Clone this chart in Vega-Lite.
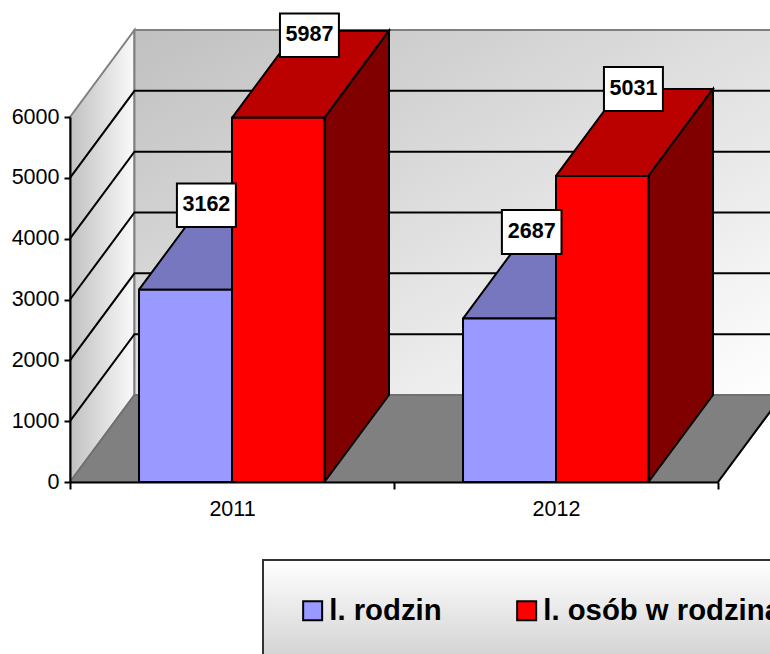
{
"$schema":"https://vega.github.io/schema/vega-lite/v6.json",
"width":648,"height":365,
"autosize":{"type":"none"},
"padding":{"left":70,"top":117,"right":52,"bottom":172},
"background":"white",
"config":{"view":{"stroke":null},"font":"Liberation Sans"},
"datasets":{
"faces":[
{"face":"left wall","i":0,"x":0,"y":0},{"face":"left wall","i":1,"x":0.199,"y":1430},{"face":"left wall","i":2,"x":0.199,"y":7430},{"face":"left wall","i":3,"x":0,"y":6000},{"face":"left wall","i":4,"x":0,"y":0},
{"face":"back wall","i":0,"x":0.199,"y":1430},{"face":"back wall","i":1,"x":2.199,"y":1430},{"face":"back wall","i":2,"x":2.199,"y":7430},{"face":"back wall","i":3,"x":0.199,"y":7430},{"face":"back wall","i":4,"x":0.199,"y":1430},
{"face":"floor","i":0,"x":0,"y":0},{"face":"floor","i":1,"x":2,"y":0},{"face":"floor","i":2,"x":2.199,"y":1430},{"face":"floor","i":3,"x":0.199,"y":1430},{"face":"floor","i":4,"x":0,"y":0},
{"face":"floor edge","i":0,"x":2,"y":0},{"face":"floor edge","i":1,"x":2.199,"y":1430},
{"face":"blue top 2011","i":0,"x":0.213,"y":3162},{"face":"blue top 2011","i":1,"x":0.5,"y":3162},{"face":"blue top 2011","i":2,"x":0.699,"y":4592},{"face":"blue top 2011","i":3,"x":0.412,"y":4592},{"face":"blue top 2011","i":4,"x":0.213,"y":3162},
{"face":"blue top 2012","i":0,"x":1.213,"y":2687},{"face":"blue top 2012","i":1,"x":1.5,"y":2687},{"face":"blue top 2012","i":2,"x":1.699,"y":4117},{"face":"blue top 2012","i":3,"x":1.412,"y":4117},{"face":"blue top 2012","i":4,"x":1.213,"y":2687},
{"face":"red top 2011","i":0,"x":0.5,"y":5987},{"face":"red top 2011","i":1,"x":0.7855,"y":5987},{"face":"red top 2011","i":2,"x":0.9845,"y":7417},{"face":"red top 2011","i":3,"x":0.699,"y":7417},{"face":"red top 2011","i":4,"x":0.5,"y":5987},
{"face":"red top 2012","i":0,"x":1.5,"y":5031},{"face":"red top 2012","i":1,"x":1.7855,"y":5031},{"face":"red top 2012","i":2,"x":1.9845,"y":6461},{"face":"red top 2012","i":3,"x":1.699,"y":6461},{"face":"red top 2012","i":4,"x":1.5,"y":5031},
{"face":"red side 2011","i":0,"x":0.7855,"y":0},{"face":"red side 2011","i":1,"x":0.9845,"y":1430},{"face":"red side 2011","i":2,"x":0.9845,"y":7417},{"face":"red side 2011","i":3,"x":0.7855,"y":5987},{"face":"red side 2011","i":4,"x":0.7855,"y":0},
{"face":"red side 2012","i":0,"x":1.7855,"y":0},{"face":"red side 2012","i":1,"x":1.9845,"y":1430},{"face":"red side 2012","i":2,"x":1.9845,"y":6461},{"face":"red side 2012","i":3,"x":1.7855,"y":5031},{"face":"red side 2012","i":4,"x":1.7855,"y":0}
],
"grid":[
{"v":1000,"i":0,"x":0,"y":1000},{"v":1000,"i":1,"x":0.199,"y":2430},{"v":1000,"i":2,"x":2.199,"y":2430},
{"v":2000,"i":0,"x":0,"y":2000},{"v":2000,"i":1,"x":0.199,"y":3430},{"v":2000,"i":2,"x":2.199,"y":3430},
{"v":3000,"i":0,"x":0,"y":3000},{"v":3000,"i":1,"x":0.199,"y":4430},{"v":3000,"i":2,"x":2.199,"y":4430},
{"v":4000,"i":0,"x":0,"y":4000},{"v":4000,"i":1,"x":0.199,"y":5430},{"v":4000,"i":2,"x":2.199,"y":5430},
{"v":5000,"i":0,"x":0,"y":5000},{"v":5000,"i":1,"x":0.199,"y":6430},{"v":5000,"i":2,"x":2.199,"y":6430}
],
"bars":[
{"year":2011,"series":"l. rodzin","value":3162,"start":0.213,"end":0.5,"base":0},
{"year":2012,"series":"l. rodzin","value":2687,"start":1.213,"end":1.5,"base":0},
{"year":2011,"series":"l. osób w rodzinach","value":5987,"start":0.5,"end":0.7855,"base":0},
{"year":2012,"series":"l. osób w rodzinach","value":5031,"start":1.5,"end":1.7855,"base":0}
],
"labels":[
{"value":3162,"x1":0.330,"x2":0.512,"y1":4192,"y2":4907,"cx":0.421,"cy":4549},
{"value":5987,"x1":0.648,"x2":0.830,"y1":6986,"y2":7701,"cx":0.739,"cy":7344},
{"value":5031,"x1":1.648,"x2":1.830,"y1":6099,"y2":6822,"cx":1.739,"cy":6460},
{"value":2687,"x1":1.333,"x2":1.517,"y1":3748,"y2":4471,"cx":1.425,"cy":4110}
],
"legendbox":[{"x1":0.5957,"x2":2.4,"y1":-1282,"y2":-3000}]
},
"layer":[
{"data":{"name":"faces"},"transform":[{"filter":"datum.face=='left wall'"}],
 "mark":{"type":"line","strokeWidth":2,"stroke":"#808080","fill":{"gradient":"linear","x1":0,"y1":0,"x2":1,"y2":0,"stops":[{"offset":0,"color":"#c0c0c0"},{"offset":1,"color":"#fafafa"}]}},
 "encoding":{
  "x":{"field":"x","type":"quantitative","scale":{"domain":[0,2],"nice":false,"zero":false},
   "axis":{"title":null,"values":[0,0.5,1,1.5,2],"grid":false,"domainColor":"black","domainWidth":2,"tickColor":"black","tickWidth":2,"tickSize":7,"labelFontSize":21.5,"labelColor":"black","labelPadding":9,"labelFlush":false,"zindex":1,
    "labelExpr":"datum.value==0.5?'2011':datum.value==1.5?'2012':''",
    "tickOpacity":{"condition":{"test":"datum.value==0.5||datum.value==1.5","value":0},"value":1}}},
  "y":{"field":"y","type":"quantitative","scale":{"domain":[0,6000],"nice":false,"zero":false},
   "axis":{"title":null,"values":[0,1000,2000,3000,4000,5000,6000],"grid":false,"domainColor":"black","domainWidth":2,"tickColor":"black","tickWidth":2,"tickSize":6,"labelFontSize":21.5,"labelColor":"black","labelPadding":5,"format":"d","labelFlush":false,"zindex":1}},
  "order":{"field":"i","type":"quantitative"}}},
{"data":{"name":"faces"},"transform":[{"filter":"datum.face=='back wall'"}],
 "mark":{"type":"line","strokeWidth":2,"stroke":"#808080","fill":{"gradient":"linear","x1":0,"y1":0,"x2":1,"y2":1,"stops":[{"offset":0,"color":"#c0c0c0"},{"offset":1,"color":"#ffffff"}]}},
 "encoding":{"x":{"field":"x","type":"quantitative"},"y":{"field":"y","type":"quantitative"},"order":{"field":"i","type":"quantitative"}}},
{"data":{"name":"grid"},
 "mark":{"type":"line","strokeWidth":2,"stroke":"black"},
 "encoding":{"x":{"field":"x","type":"quantitative"},"y":{"field":"y","type":"quantitative"},"detail":{"field":"v","type":"nominal"},"order":{"field":"i","type":"quantitative"}}},
{"data":{"name":"faces"},"transform":[{"filter":"datum.face=='floor'"}],
 "mark":{"type":"line","strokeWidth":2,"stroke":"#707070","fill":"#808080"},
 "encoding":{"x":{"field":"x","type":"quantitative"},"y":{"field":"y","type":"quantitative"},"order":{"field":"i","type":"quantitative"}}},
{"data":{"name":"faces"},"transform":[{"filter":"datum.face=='floor edge'"}],
 "mark":{"type":"line","strokeWidth":2,"stroke":"black"},
 "encoding":{"x":{"field":"x","type":"quantitative"},"y":{"field":"y","type":"quantitative"},"order":{"field":"i","type":"quantitative"}}},
{"data":{"name":"faces"},"transform":[{"filter":"indexof(datum.face,'blue top')==0"}],
 "mark":{"type":"line","strokeWidth":2,"stroke":"black","fill":"#7777c0"},
 "encoding":{"x":{"field":"x","type":"quantitative"},"y":{"field":"y","type":"quantitative"},"detail":{"field":"face","type":"nominal"},"order":{"field":"i","type":"quantitative"}}},
{"data":{"name":"faces"},"transform":[{"filter":"indexof(datum.face,'red top')==0"}],
 "mark":{"type":"line","strokeWidth":2,"stroke":"black","fill":"#bb0000"},
 "encoding":{"x":{"field":"x","type":"quantitative"},"y":{"field":"y","type":"quantitative"},"detail":{"field":"face","type":"nominal"},"order":{"field":"i","type":"quantitative"}}},
{"data":{"name":"faces"},"transform":[{"filter":"indexof(datum.face,'red side')==0"}],
 "mark":{"type":"line","strokeWidth":2,"stroke":"black","fill":"#800000"},
 "encoding":{"x":{"field":"x","type":"quantitative"},"y":{"field":"y","type":"quantitative"},"detail":{"field":"face","type":"nominal"},"order":{"field":"i","type":"quantitative"}}},
{"data":{"name":"legendbox"},
 "mark":{"type":"rect","stroke":"#333333","strokeWidth":2,"fill":{"gradient":"linear","x1":0,"y1":0,"x2":0,"y2":1,"stops":[{"offset":0,"color":"#ffffff"},{"offset":1,"color":"#d0d0d0"}]}},
 "encoding":{"x":{"field":"x1","type":"quantitative"},"x2":{"field":"x2"},"y":{"field":"y1","type":"quantitative"},"y2":{"field":"y2"}}},
{"data":{"name":"bars"},
 "mark":{"type":"rect","stroke":"black","strokeWidth":2},
 "encoding":{"x":{"field":"start","type":"quantitative"},"x2":{"field":"end"},"y":{"field":"value","type":"quantitative"},"y2":{"field":"base"},
  "color":{"field":"series","type":"nominal","scale":{"domain":["l. rodzin","l. osób w rodzinach"],"range":["#9999ff","#ff0000"]},
   "legend":{"title":null,"orient":"none","legendX":193,"legendY":444,"direction":"horizontal","columns":2,"padding":35,"zindex":1,"symbolType":"square","symbolSize":361,"symbolStrokeColor":"black","symbolStrokeWidth":2,"symbolOpacity":1,"labelFontSize":29.3,"labelFontWeight":"bold","labelColor":"black","labelOffset":2,"columnPadding":70,"symbolOffset":0,"labelLimit":500}}}},
{"data":{"name":"labels"},
 "mark":{"type":"rect","fill":"white","stroke":"black","strokeWidth":2},
 "encoding":{"x":{"field":"x1","type":"quantitative"},"x2":{"field":"x2"},"y":{"field":"y1","type":"quantitative"},"y2":{"field":"y2"}}},
{"data":{"name":"labels"},
 "mark":{"type":"text","fontSize":21.5,"fontWeight":"bold","color":"black","align":"center","baseline":"middle"},
 "encoding":{"x":{"field":"cx","type":"quantitative"},"y":{"field":"cy","type":"quantitative"},"text":{"field":"value","type":"nominal"}}}
]
}
